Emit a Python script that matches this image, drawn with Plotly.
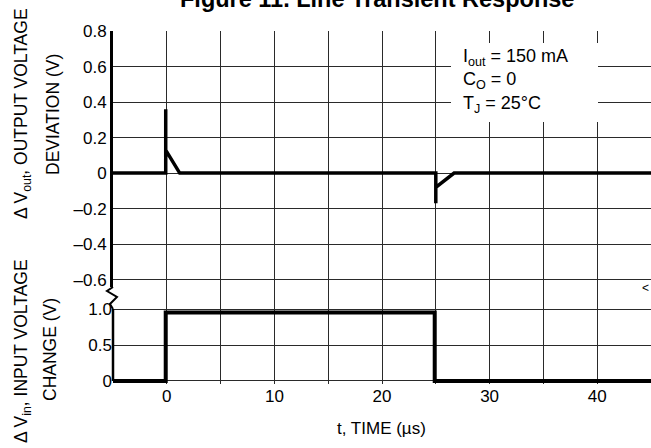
import plotly.graph_objects as go
from plotly.subplots import make_subplots

# ---- data ----
out_time = [-5, -0.1, -0.1, -0.1, 1.2, 25.0, 25.0, 25.0, 26.7, 45]
out_dev = [0, 0, 0.36, 0.13, 0, 0, -0.17, -0.08, 0, 0]
in_time = [-5, -0.1, -0.1, 24.9, 24.9, 45]
in_change = [0, 0, 0.95, 0.95, 0, 0]

x_ticks = [0, 10, 20, 30, 40]
x_text = ["0", "10", "20", "30", "40"]
y1_vals = [-0.6, -0.4, -0.2, 0, 0.2, 0.4, 0.6, 0.8]
y1_text = ["\u20130.6", "\u20130.4", "\u20130.2", "0", "0.2", "0.4", "0.6", "0.8"]
y2_vals = [0, 0.5, 1.0]
y2_text = ["0", "0.5", "1.0"]

W, H = 651, 448
L, R, T, B = 113, 0, 31, 64
PW, PH = W - L - R, H - T - B


def px(xp):
    return (xp - L) / PW


def py(yp):
    return (H - B - yp) / PH


split = py(287)
FONT = "Liberation Sans, Arial, sans-serif"
GRID = "#2a2a2a"

fig = make_subplots(rows=2, cols=1, shared_xaxes=True, vertical_spacing=0)

fig.add_trace(go.Scatter(x=out_time, y=out_dev, mode="lines",
                         line=dict(color="black", width=3.5), showlegend=False,
                         hoverinfo="skip"), row=1, col=1)
fig.add_trace(go.Scatter(x=in_time, y=in_change, mode="lines",
                         line=dict(color="black", width=4), showlegend=False,
                         hoverinfo="skip"), row=2, col=1)

grid = dict(showgrid=True, gridcolor=GRID, gridwidth=1.2, zeroline=False)
minor = dict(dtick=5, tick0=0, showgrid=True, gridcolor=GRID, gridwidth=1.2)

fig.update_layout(
    width=W, height=H,
    margin=dict(l=L, r=R, t=T, b=B),
    paper_bgcolor="white", plot_bgcolor="white",
    font=dict(family=FONT, size=17, color="black"),
    xaxis=dict(domain=[0, 1], range=[-5, 45], tickvals=x_ticks, showticklabels=False,
               ticks="", minor=minor, **grid),
    xaxis2=dict(domain=[0, 1], range=[-5, 45], tickvals=x_ticks, ticktext=x_text,
                ticks="", minor=minor, **grid),
    yaxis=dict(domain=[split, 1], range=[-0.642, 0.801], tickvals=y1_vals, ticktext=y1_text,
               ticks="", showline=True, linecolor="black", linewidth=3, **grid),
    yaxis2=dict(domain=[0, split], range=[-0.042, 1.306], tickvals=y2_vals, ticktext=y2_text,
                ticks="", **grid),
)

# left axis line for lower panel (starts at 1.0)
fig.add_shape(type="line", xref="x2 domain", x0=0, x1=0, yref="y2", y0=0, y1=1.0,
              line=dict(color="black", width=2.5))

# axis break squiggle
pts = [(113, 287), (107, 291), (117, 297), (110, 304), (113, 309)]
path = "M " + " L ".join(f"{px(a):.4f},{py(b):.4f}" for a, b in pts)
fig.add_shape(type="path", xref="paper", yref="paper", path=path,
              line=dict(color="black", width=2))

# white box behind the conditions text
fig.add_shape(type="rect", xref="paper", yref="paper",
              x0=px(451), x1=px(598), y0=py(122), y1=py(43),
              fillcolor="white", line=dict(width=0), layer="above")

ann = []
ann.append(dict(text="I<sub>out</sub> = 150 mA<br>C<sub>O</sub> = 0<br>T<sub>J</sub> = 25\u00b0C",
                x=px(461), y=py(44), xanchor="left", yanchor="top", align="left",
                font=dict(size=18)))
ann.append(dict(text="<b>Figure 11. Line Transient Response</b>", x=px(377), y=py(-1),
                xanchor="center", yanchor="middle", font=dict(size=23.5)))
ann.append(dict(text="t, TIME (\u00b5s)", x=px(381), y=py(429), xanchor="center",
                yanchor="middle", font=dict(size=17)))
ann.append(dict(text="\u0394 V<sub>out</sub>, OUTPUT VOLTAGE", x=px(22), y=py(114),
                textangle=-90, xanchor="center", yanchor="middle", font=dict(size=17.5)))
ann.append(dict(text="DEVIATION (V)", x=px(53), y=py(115),
                textangle=-90, xanchor="center", yanchor="middle", font=dict(size=17.5)))
ann.append(dict(text="\u0394 V<sub>in</sub>, INPUT VOLTAGE", x=px(22), y=py(351),
                textangle=-90, xanchor="center", yanchor="middle", font=dict(size=17.5)))
ann.append(dict(text="CHANGE (V)", x=px(50), y=py(350),
                textangle=-90, xanchor="center", yanchor="middle", font=dict(size=17.5)))
ann.append(dict(text="&lt;", x=px(645), y=py(288), xanchor="center", yanchor="middle",
                font=dict(size=12)))
for a in ann:
    a.update(xref="paper", yref="paper", showarrow=False)
fig.update_layout(annotations=ann)

fig.write_html("out.html", config={"displayModeBar": False},
               post_script="document.body.style.margin='0';")
